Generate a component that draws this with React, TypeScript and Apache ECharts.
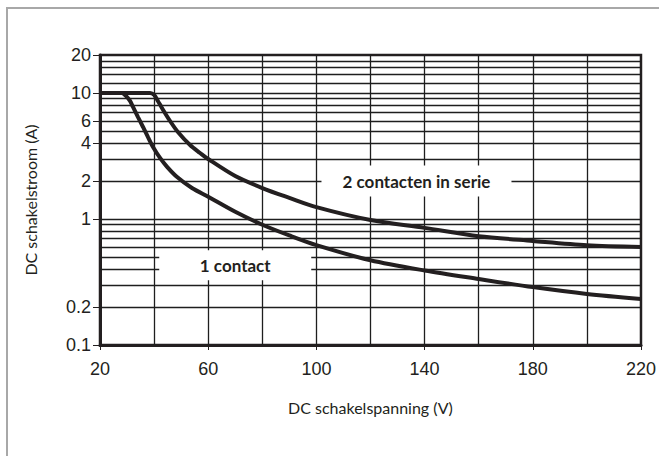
import React, { useEffect, useRef } from "react";
import * as echarts from "echarts";

// Axis ticks and labels
const xLabelValues = [20, 60, 100, 140, 180, 220];
const yLabelValues = [0.1, 0.2, 1, 2, 4, 6, 10, 20];
// Grid lines
const xGridValues = [40, 60, 80, 100, 120, 140, 160, 180, 200];
const yGridValues = [0.2, 0.3, 0.4, 0.5, 0.6, 0.7, 0.8, 0.9, 1, 2, 3, 4, 5, 6, 7, 8, 9, 10, 12, 14, 16, 18];

// 1 contact
const volt1 = [20, 28.1, 29.6, 31.1, 32.2, 34.0, 35.9, 37.7, 39.6, 42.2, 44.8, 48.5, 54.0, 60, 70, 80, 90, 100, 120, 140, 160, 180, 200, 220];
const amp1 = [10, 10, 9.47, 8.64, 7.74, 6.46, 5.37, 4.48, 3.73, 3.05, 2.59, 2.15, 1.76, 1.5, 1.14, 0.9, 0.74, 0.62, 0.47, 0.39, 0.334, 0.288, 0.254, 0.232];

// 2 contacten in serie
const volt2 = [20, 38.5, 40.0, 41.4, 42.9, 45.9, 48.8, 53.3, 57.0, 60, 70, 80, 90, 100, 120, 140, 160, 180, 200, 220];
const amp2 = [10, 10, 9.64, 8.64, 7.6, 5.99, 4.9, 3.86, 3.34, 2.99, 2.19, 1.76, 1.47, 1.24, 0.98, 0.85, 0.73, 0.67, 0.62, 0.6];

// Curve annotations
const labelTexts = ["1 contact", "2 contacten in serie"];
const labelX = [70, 137];
const labelY = [0.43, 2.0];

const INK = "#231f20";

export default function App() {
  const ref = useRef<HTMLDivElement>(null);

  useEffect(() => {
    if (!ref.current) return;
    const chart = echarts.init(ref.current, undefined, { renderer: "svg" });
    const boxSizes = [[152, 30], [190, 31]];
    chart.setOption({
      animation: false,
      grid: {
        left: 100,
        right: 18,
        top: 55,
        bottom: 111,
        show: true,
        borderColor: INK,
        borderWidth: 2.5,
        backgroundColor: "transparent",
      },
      xAxis: {
        type: "value",
        min: 20,
        max: 220,
        interval: 20,
        name: "DC schakelspanning (V)",
        nameLocation: "middle",
        nameGap: 54,
        nameTextStyle: { fontFamily: "Lato", fontSize: 16, color: INK },
        axisLine: { show: true, lineStyle: { color: INK, width: 3 } },
        axisTick: { show: true, customValues: xLabelValues, length: 5, lineStyle: { color: INK, width: 1 } },
        axisLabel: {
          customValues: xLabelValues,
          formatter: (v: number) => String(v),
          fontFamily: "Liberation Sans",
          fontSize: 18,
          color: INK,
          margin: 15,
        },
        splitLine: { show: false },
      },
      yAxis: {
        type: "log",
        logBase: 10,
        min: 0.1,
        max: 20,
        name: "DC schakelstroom (A)",
        nameLocation: "middle",
        nameGap: 62,
        nameTextStyle: { fontFamily: "Lato", fontSize: 16, color: INK },
        axisLine: { show: true, lineStyle: { color: INK, width: 3 } },
        axisTick: { show: true, customValues: yLabelValues, length: 7, lineStyle: { color: INK, width: 1 } },
        axisLabel: {
          customValues: yLabelValues,
          formatter: (v: number) => String(v),
          fontFamily: "Liberation Sans",
          fontSize: 18,
          color: INK,
          margin: 9,
        },
        splitLine: { show: false },
      },
      series: [
        {
          type: "line",
          data: [],
          z: 1,
          silent: true,
          markLine: {
            z: 1,
            silent: true,
            symbol: ["none", "none"],
            label: { show: false },
            emphasis: { disabled: true },
            lineStyle: { color: "#1e1e1e", width: 1.3, type: "solid" },
            data: [
              ...xGridValues.map((v) => ({ xAxis: v })),
              ...yGridValues.map((v) => ({ yAxis: v })),
            ],
          },
        },
        {
          type: "scatter",
          z: 6,
          silent: true,
          data: labelTexts.map((t, i) => ({
            value: [labelX[i], labelY[i]],
            name: t,
            symbolSize: boxSizes[i],
          })),
          symbol: "rect",
          itemStyle: { color: "#ffffff", opacity: 1 },
          label: {
            show: true,
            position: "inside",
            formatter: (p: any) => p.name,
            fontFamily: "Lato",
            fontWeight: "bold",
            fontSize: 17,
            color: INK,
          },
        },
        {
          type: "line",
          z: 7,
          silent: true,
          showSymbol: false,
          smooth: 0.3,
          data: volt1.map((v, i) => [v, amp1[i]]),
          lineStyle: { color: INK, width: 4 },
        },
        {
          type: "line",
          z: 7,
          silent: true,
          showSymbol: false,
          smooth: 0.3,
          data: volt2.map((v, i) => [v, amp2[i]]),
          lineStyle: { color: INK, width: 4 },
        },
      ],
    });
    return () => chart.dispose();
  }, []);

  return (
    <div style={{ position: "fixed", left: 0, top: 0, width: 659, height: 456, background: "#ffffff", overflow: "hidden" }}>
      <div
        style={{
          position: "absolute",
          left: 6,
          top: 7,
          width: 700,
          height: 500,
          borderTop: "2px solid #a8a8a8",
          borderLeft: "2px solid #a8a8a8",
          boxSizing: "border-box",
        }}
      />
      <div ref={ref} style={{ position: "absolute", left: 0, top: 0, width: 659, height: 456 }} />
    </div>
  );
}
